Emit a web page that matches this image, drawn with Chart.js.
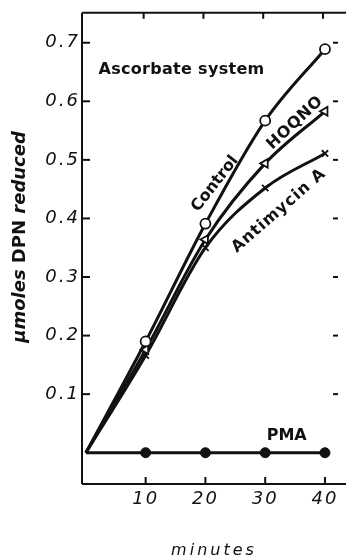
<!DOCTYPE html>
<html>
<head>
<meta charset="utf-8">
<script src="https://cdn.jsdelivr.net/npm/chart.js@4/dist/chart.umd.min.js"></script>
<style>
  html, body { margin: 0; padding: 0; background: #fff; overflow: hidden; }
  canvas { display: block; }
</style>
</head>
<body>
<canvas id="chart" width="360" height="557"></canvas>
<script>
// minutes vs. umoles DPN reduced
const minutes    = [0, 10, 20, 30, 40];
const control    = [0, 0.19, 0.391, 0.567, 0.689];
const hoqno      = [0, 0.176, 0.364, 0.494, 0.583];
const antimycinA = [0, 0.166, 0.35, 0.452, 0.511];
const pma        = [0, 0, 0, 0, 0];

const xTicks = [10, 20, 30, 40];
const yTicks = [0.1, 0.2, 0.3, 0.4, 0.5, 0.6, 0.7];

const INK = '#111';
const pts = arr => minutes.map((m, i) => ({ x: m, y: arr[i] }));
const skipFirst = r => ctx => ctx.dataIndex === 0 ? 0 : r;

function seg(ctx, x1, y1, x2, y2) {
  ctx.beginPath();
  ctx.moveTo(x1, y1);
  ctx.lineTo(x2, y2);
  ctx.stroke();
}

// frame, inward ticks, axis titles and curve labels
// (plot runs past the window's right edge, like the cropped original)
const frame = {
  id: 'frame',
  beforeDraw(chart) { chart.ctx.letterSpacing = '2px'; },
  beforeDatasetsDraw(chart) { chart.ctx.letterSpacing = '0px'; },
  afterDraw(chart) {
    const { ctx, chartArea: a, scales: { x, y } } = chart;
    ctx.save();
    ctx.letterSpacing = '0px';
    ctx.strokeStyle = INK;
    ctx.lineWidth = 2;
    seg(ctx, a.left, a.top, a.right, a.top);
    seg(ctx, a.left, a.top, a.left, a.bottom);
    seg(ctx, a.left, a.bottom, a.right, a.bottom);
    yTicks.forEach(v => {
      const py = y.getPixelForValue(v);
      seg(ctx, a.left, py, a.left + 8, py);
      seg(ctx, a.right - 27, py, a.right - 22, py);
    });
    xTicks.forEach(v => {
      const px = x.getPixelForValue(v);
      seg(ctx, px, a.bottom, px, a.bottom - 7);
      seg(ctx, px - 2, a.top, px - 2, a.top + 6);
    });

    ctx.fillStyle = INK;
    const label = (text, xv, yv, deg, font, spacing) => {
      ctx.save();
      ctx.font = font;
      ctx.letterSpacing = spacing || '0px';
      ctx.translate(x.getPixelForValue(xv), y.getPixelForValue(yv));
      ctx.rotate(deg * Math.PI / 180);
      ctx.textAlign = 'center';
      ctx.textBaseline = 'middle';
      ctx.fillText(text, 0, 0);
      ctx.restore();
    };
    const bold = 'bold 16px "DejaVu Sans"';
    label('Ascorbate system', 16, 0.654, 0, bold, '0.3px');
    label('Control', 21.6, 0.459, -52, bold);
    label('HOQNO', 35.0, 0.563, -43, bold, '0.5px');
    label('Antimycin A', 32.3, 0.413, -41, bold, '1px');
    label('PMA', 33.6, 0.028, 0, bold);

    // x title
    ctx.font = 'italic 16px "DejaVu Sans"';
    ctx.letterSpacing = '3px';
    ctx.textAlign = 'center';
    ctx.textBaseline = 'alphabetic';
    ctx.fillText('minutes', 214, 555);

    // y title: mixed italic / upright
    ctx.letterSpacing = '0px';
    const parts = [
      ['μmoles ', 'italic bold 18px "DejaVu Sans"'],
      ['DPN ', 'bold 18px "DejaVu Sans"'],
      ['reduced', 'italic bold 18px "DejaVu Sans"'],
    ];
    const widths = parts.map(([t, f]) => { ctx.font = f; return ctx.measureText(t).width; });
    const total = widths.reduce((s, w) => s + w, 0);
    ctx.translate(25, 237);
    ctx.rotate(-Math.PI / 2);
    ctx.textAlign = 'left';
    let cx = -total / 2;
    parts.forEach(([t, f], i) => {
      ctx.font = f;
      ctx.fillText(t, cx, 0);
      cx += widths[i];
    });
    ctx.restore();
  }
};

new Chart(document.getElementById('chart'), {
  type: 'line',
  data: {
    datasets: [
      {
        label: 'Control',
        data: pts(control),
        borderColor: INK,
        borderWidth: 3,
        cubicInterpolationMode: 'monotone',
        pointStyle: 'circle',
        pointRadius: skipFirst(5),
        pointBackgroundColor: '#fff',
        pointBorderColor: INK,
        pointBorderWidth: 1.8,
      },
      {
        label: 'HOQNO',
        data: pts(hoqno),
        borderColor: INK,
        borderWidth: 3,
        cubicInterpolationMode: 'monotone',
        pointStyle: 'triangle',
        pointRotation: -90,
        pointRadius: skipFirst(5),
        pointBackgroundColor: '#fff',
        pointBorderColor: INK,
        pointBorderWidth: 1.8,
      },
      {
        label: 'Antimycin A',
        data: pts(antimycinA),
        borderColor: INK,
        borderWidth: 3,
        cubicInterpolationMode: 'monotone',
        pointStyle: 'crossRot',
        pointRadius: skipFirst(4.5),
        pointBorderColor: INK,
        pointBorderWidth: 1.8,
      },
      {
        label: 'PMA',
        data: pts(pma),
        borderColor: INK,
        borderWidth: 3,
        pointStyle: 'circle',
        pointRadius: skipFirst(5),
        pointBackgroundColor: INK,
        pointBorderColor: INK,
        pointBorderWidth: 1,
      },
    ],
  },
  options: {
    responsive: false,
    devicePixelRatio: 1,
    animation: false,
    layout: { autoPadding: false, padding: { top: 12, right: 0, left: 0, bottom: 0 } },
    plugins: { legend: { display: false }, tooltip: { enabled: false } },
    scales: {
      x: {
        type: 'linear',
        min: -0.65,
        max: 45.86,
        afterFit: s => { s.height = 73; },
        afterBuildTicks: s => { s.ticks = xTicks.map(v => ({ value: v })); },
        grid: { display: false, drawTicks: false },
        border: { display: false },
        ticks: {
          padding: 5,
          color: INK,
          font: { family: 'DejaVu Sans', size: 18, style: 'italic' },
          callback: v => String(v),
        },
      },
      y: {
        min: -0.0534,
        max: 0.7511,
        afterFit: s => { s.width = 82; },
        afterBuildTicks: s => { s.ticks = yTicks.map(v => ({ value: v })); },
        grid: { display: false, drawTicks: false },
        border: { display: false },
        ticks: {
          padding: 2,
          color: INK,
          font: { family: 'DejaVu Sans', size: 18, style: 'italic' },
          callback: v => v.toFixed(1),
        },
      },
    },
  },
  plugins: [frame],
});
</script>
</body>
</html>
